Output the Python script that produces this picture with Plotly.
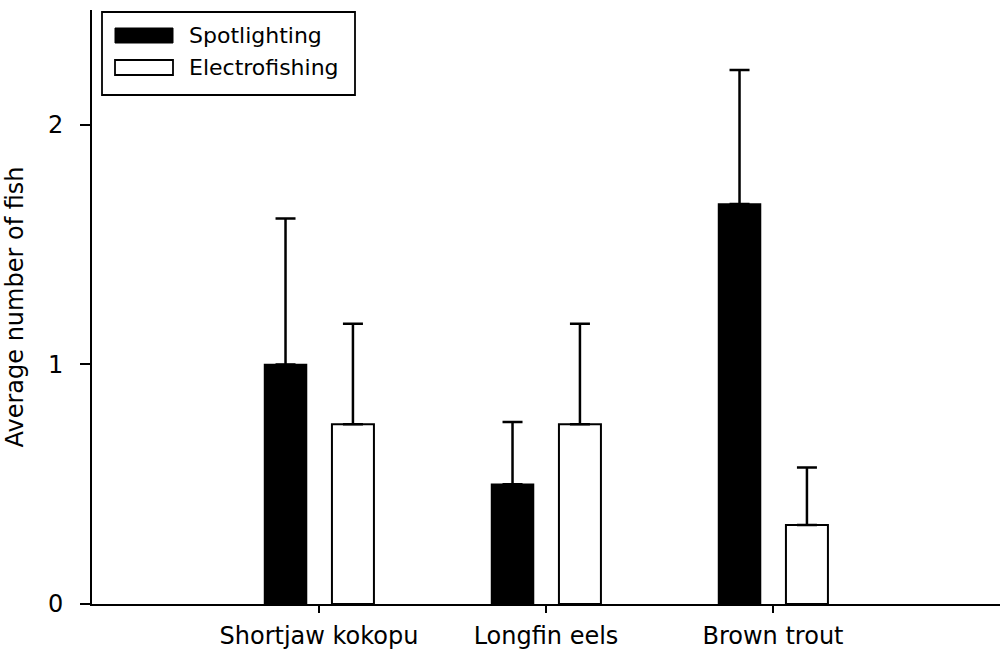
import plotly.graph_objects as go

categories = ["Shortjaw kokopu", "Longfin eels", "Brown trout"]
spotlighting = [1.00, 0.50, 1.67]
spotlighting_err = [0.61, 0.26, 0.56]
electrofishing = [0.75, 0.75, 0.33]
electrofishing_err = [0.42, 0.42, 0.24]
series_names = ["Spotlighting", "Electrofishing"]
y_ticks = [0, 1, 2]

xpos = list(range(1, len(categories) + 1))
FONT = "DejaVu Sans, Liberation Sans, Arial, sans-serif"

# plot area in pixels (for placing the hand-drawn legend box)
L, R, T, B = 92, 1000, 10, 604


def px(x):
    return (x - L) / (R - L)


def py(y):
    return (B - y) / (B - T)


fig = go.Figure()
fig.add_trace(go.Bar(
    x=xpos, y=spotlighting, name=series_names[0],
    width=0.185, offset=-0.24,
    marker=dict(color="black", line=dict(color="black", width=1.5)),
    error_y=dict(type="data", array=spotlighting_err, symmetric=False,
                 arrayminus=[0] * len(spotlighting), color="black",
                 thickness=2.5, width=10),
))
fig.add_trace(go.Bar(
    x=xpos, y=electrofishing, name=series_names[1],
    width=0.185, offset=0.057,
    marker=dict(color="white", line=dict(color="black", width=2)),
    error_y=dict(type="data", array=electrofishing_err, symmetric=False,
                 arrayminus=[0] * len(electrofishing), color="black",
                 thickness=2.5, width=10),
))

# legend drawn as a boxed key (wide swatches like the original)
shapes = [
    dict(type="rect", xref="paper", yref="paper",
         x0=px(102), x1=px(355), y0=py(95), y1=py(12),
         line=dict(color="black", width=1.8), fillcolor="white", layer="above"),
    dict(type="rect", xref="paper", yref="paper",
         x0=px(115), x1=px(173), y0=py(43), y1=py(28),
         line=dict(color="black", width=1), fillcolor="black", layer="above"),
    dict(type="rect", xref="paper", yref="paper",
         x0=px(115), x1=px(173), y0=py(75), y1=py(60),
         line=dict(color="black", width=1.8), fillcolor="white", layer="above"),
]
annotations = [
    dict(text=series_names[0], xref="paper", yref="paper", x=px(187), y=py(35.5),
         xanchor="left", yanchor="middle", showarrow=False,
         font=dict(family=FONT, size=22, color="black")),
    dict(text=series_names[1], xref="paper", yref="paper", x=px(187), y=py(67.5),
         xanchor="left", yanchor="middle", showarrow=False,
         font=dict(family=FONT, size=22, color="black")),
]

fig.update_layout(
    width=1000, height=650,
    margin=dict(l=L, r=1000 - R, t=T, b=650 - B),
    paper_bgcolor="white", plot_bgcolor="white",
    barmode="overlay",
    font=dict(family=FONT, size=24, color="black"),
    showlegend=False,
    shapes=shapes,
    annotations=annotations,
)
fig.update_xaxes(
    range=[0, 4], tickmode="array", tickvals=xpos, ticktext=categories,
    showline=True, linecolor="black", linewidth=2,
    ticks="outside", ticklen=7, tickwidth=1.5, tickcolor="black",
    showgrid=False, zeroline=False,
    tickfont=dict(family=FONT, size=24, color="black"),
    ticklabelstandoff=2,
)
fig.update_yaxes(
    range=[0, 2.48], tickmode="array", tickvals=y_ticks,
    ticktext=[str(v) for v in y_ticks],
    showline=True, linecolor="black", linewidth=2,
    ticks="outside", ticklen=10, tickwidth=1.5, tickcolor="black",
    showgrid=False, zeroline=False,
    tickfont=dict(family=FONT, size=24, color="black"),
    ticklabelstandoff=12,
    title=dict(text="Average number of fish",
               font=dict(family=FONT, size=24, color="black"), standoff=18),
)

fig.write_html("out.html")
